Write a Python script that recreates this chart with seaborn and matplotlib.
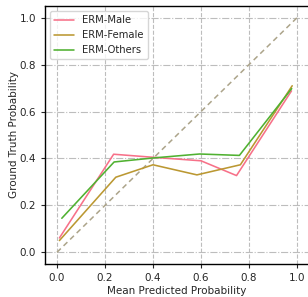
import matplotlib
matplotlib.use("Agg")
import matplotlib.pyplot as plt
import seaborn as sns
import pandas as pd

# calibration data
male_x = [0.01, 0.236, 0.40, 0.60, 0.748, 0.977]
male_y = [0.061, 0.418, 0.405, 0.39, 0.327, 0.688]
female_x = [0.01, 0.245, 0.40, 0.583, 0.764, 0.98]
female_y = [0.05, 0.32, 0.373, 0.33, 0.373, 0.71]
others_x = [0.02, 0.238, 0.40, 0.594, 0.76, 0.978]
others_y = [0.145, 0.385, 0.402, 0.419, 0.413, 0.698]
groups = ["ERM-Male", "ERM-Female", "ERM-Others"]
ticks = [0.0, 0.2, 0.4, 0.6, 0.8, 1.0]

df = pd.concat([
    pd.DataFrame({"x": male_x, "y": male_y, "group": groups[0]}),
    pd.DataFrame({"x": female_x, "y": female_y, "group": groups[1]}),
    pd.DataFrame({"x": others_x, "y": others_y, "group": groups[2]}),
])

sns.set_theme(style="ticks")
plt.rcParams["font.family"] = ["DejaVu Sans"]
palette = sns.husl_palette(6)[:3]

fig = plt.figure(figsize=(3.08, 2.97), dpi=100)
ax = fig.add_axes([45 / 308, 1 - 264 / 297, 264 / 308, 258 / 297])

ax.plot([0, 1], [0, 1], linestyle=(0, (3.5, 2.5)), color="#aca48a", lw=1.1, zorder=1)
sns.lineplot(data=df, x="x", y="y", hue="group", palette=palette, lw=1.15,
             sort=False, estimator=None, ax=ax, zorder=3)

ax.set_xlim(-0.05, 1.05)
ax.set_ylim(-0.05, 1.05)
ax.set_xticks(ticks)
ax.set_yticks(ticks)
ax.xaxis.grid(True, linestyle="--", color="#bdbdbd", lw=0.8)
ax.yaxis.grid(True, linestyle="-.", color="#bdbdbd", lw=0.8)
ax.set_axisbelow(True)
ax.tick_params(labelsize=7.5, length=3, width=0.8)
ax.set_xlabel("Mean Predicted Probability", fontsize=7.5, labelpad=2)
ax.set_ylabel("Ground Truth Probability", fontsize=7.5, labelpad=0)
for s in ax.spines.values():
    s.set_color("black")
    s.set_linewidth(1.0)

ax.legend(title=None, loc="upper left", fontsize=7.2, frameon=True,
          handlelength=2.0, borderaxespad=0.5)

fig.savefig("out.png", dpi=100)
